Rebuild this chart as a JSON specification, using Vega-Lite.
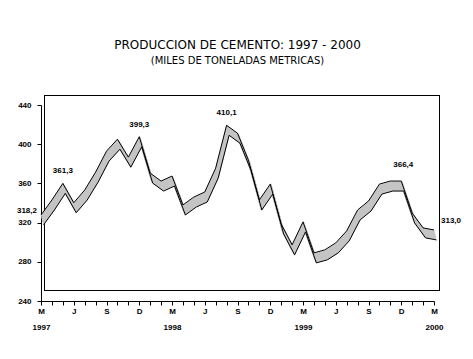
{
  "$schema": "https://vega.github.io/schema/vega-lite/v6.json",
  "autosize": "none",
  "width": 393,
  "height": 196,
  "padding": {"left": 41, "top": 105, "right": 39, "bottom": 58},
  "background": "white",
  "view": {"stroke": null},
  "title": {
    "text": "PRODUCCION DE CEMENTO: 1997 - 2000",
    "subtitle": "(MILES DE TONELADAS METRICAS)",
    "font": "DejaVu Sans",
    "fontSize": 12,
    "fontWeight": "normal",
    "color": "black",
    "subtitleFont": "DejaVu Sans",
    "subtitleFontSize": 10,
    "subtitleColor": "black",
    "subtitlePadding": 4,
    "anchor": "middle",
    "offset": 28
  },
  "data": {
    "values": [
      {"i": 0, "fecha": "1997-03", "v": 327.8, "etiqueta": "318,2"},
      {"i": 1, "fecha": "1997-04", "v": 343.1},
      {"i": 2, "fecha": "1997-05", "v": 360.0, "etiqueta": "361,3"},
      {"i": 3, "fecha": "1997-06", "v": 340.3},
      {"i": 4, "fecha": "1997-07", "v": 353.2},
      {"i": 5, "fecha": "1997-08", "v": 371.5},
      {"i": 6, "fecha": "1997-09", "v": 392.9},
      {"i": 7, "fecha": "1997-10", "v": 405.1},
      {"i": 8, "fecha": "1997-11", "v": 386.8},
      {"i": 9, "fecha": "1997-12", "v": 407.6, "etiqueta": "399,3"},
      {"i": 10, "fecha": "1998-01", "v": 370.5},
      {"i": 11, "fecha": "1998-02", "v": 362.4},
      {"i": 12, "fecha": "1998-03", "v": 367.5},
      {"i": 13, "fecha": "1998-04", "v": 338.0},
      {"i": 14, "fecha": "1998-05", "v": 346.1},
      {"i": 15, "fecha": "1998-06", "v": 351.2},
      {"i": 16, "fecha": "1998-07", "v": 375.6},
      {"i": 17, "fecha": "1998-08", "v": 419.3, "etiqueta": "410,1"},
      {"i": 18, "fecha": "1998-09", "v": 411.2},
      {"i": 19, "fecha": "1998-10", "v": 383.7},
      {"i": 20, "fecha": "1998-11", "v": 343.1},
      {"i": 21, "fecha": "1998-12", "v": 359.3},
      {"i": 22, "fecha": "1999-01", "v": 318.6},
      {"i": 23, "fecha": "1999-02", "v": 297.3},
      {"i": 24, "fecha": "1999-03", "v": 320.7},
      {"i": 25, "fecha": "1999-04", "v": 289.1},
      {"i": 26, "fecha": "1999-05", "v": 292.2},
      {"i": 27, "fecha": "1999-06", "v": 299.3},
      {"i": 28, "fecha": "1999-07", "v": 311.5},
      {"i": 29, "fecha": "1999-08", "v": 332.9},
      {"i": 30, "fecha": "1999-09", "v": 342.0},
      {"i": 31, "fecha": "1999-10", "v": 359.3},
      {"i": 32, "fecha": "1999-11", "v": 362.4},
      {"i": 33, "fecha": "1999-12", "v": 362.4, "etiqueta": "366,4"},
      {"i": 34, "fecha": "2000-01", "v": 329.8},
      {"i": 35, "fecha": "2000-02", "v": 314.6},
      {"i": 36, "fecha": "2000-03", "v": 312.5, "etiqueta": "313,0"}
    ]
  },
  "encoding": {
    "x": {
      "field": "i",
      "type": "quantitative",
      "scale": {"domain": [0, 36], "nice": false, "zero": false},
      "axis": {
        "title": null,
        "grid": false,
        "values": [0,1,2,3,4,5,6,7,8,9,10,11,12,13,14,15,16,17,18,19,20,21,22,23,24,25,26,27,28,29,30,31,32,33,34,35,36],
        "labelExpr": "datum.value % 3 != 0 ? '' : (datum.value % 12 == 0 ? ['M', toString(1997 + datum.value / 12)] : (datum.value % 12 == 3 ? 'J' : (datum.value % 12 == 6 ? 'S' : 'D')))",
        "labelOverlap": false,
        "labelFlush": false,
        "labelFont": "Liberation Sans",
        "labelFontSize": 8,
        "labelFontWeight": "bold",
        "labelColor": "black",
        "labelLineHeight": 16,
        "labelPadding": 2,
        "tickSize": 4,
        "tickColor": "black",
        "domainColor": "black"
      }
    },
    "y": {
      "field": "v",
      "type": "quantitative",
      "scale": {"domain": [240, 440], "nice": false, "zero": false},
      "axis": {
        "title": null,
        "grid": false,
        "values": [240, 280, 320, 360, 400, 440],
        "labelFont": "Liberation Sans",
        "labelFontSize": 8,
        "labelFontWeight": "bold",
        "labelColor": "black",
        "labelPadding": 6,
        "tickSize": 4,
        "tickColor": "black",
        "domainColor": "black"
      }
    }
  },
  "layer": [
    {
      "mark": {"type": "rect", "fill": "white", "fillOpacity": 0, "stroke": "black", "strokeWidth": 1, "xOffset": 3.5, "x2Offset": 5.5, "yOffset": -10.5, "y2Offset": -9.5},
      "encoding": {
        "x": {"datum": 0, "type": "quantitative"},
        "x2": {"datum": 36},
        "y": {"datum": 240, "type": "quantitative"},
        "y2": {"datum": 440}
      }
    },
    {"mark": {"type": "line", "color": "#c4c4c4", "strokeWidth": 2.2, "xOffset": 0.4, "yOffset": 1.5}},
    {"mark": {"type": "line", "color": "#c4c4c4", "strokeWidth": 2.2, "xOffset": 0.8, "yOffset": 3}},
    {"mark": {"type": "line", "color": "#c4c4c4", "strokeWidth": 2.2, "xOffset": 1.2, "yOffset": 4.5}},
    {"mark": {"type": "line", "color": "#c4c4c4", "strokeWidth": 2.2, "xOffset": 1.6, "yOffset": 6}},
    {"mark": {"type": "line", "color": "#c4c4c4", "strokeWidth": 2.2, "xOffset": 2.0, "yOffset": 7.5}},
    {"mark": {"type": "line", "color": "#c4c4c4", "strokeWidth": 2.2, "xOffset": 2.3, "yOffset": 8.8}},
    {"mark": {"type": "line", "color": "black", "strokeWidth": 1}},
    {"mark": {"type": "line", "color": "black", "strokeWidth": 1, "xOffset": 2.5, "yOffset": 10}},
    {
      "transform": [{"filter": "datum.i == 0"}],
      "mark": {"type": "text", "font": "Liberation Sans", "fontSize": 8, "fontWeight": "bold", "color": "black", "align": "right", "baseline": "middle", "dx": -4, "dy": -4},
      "encoding": {"text": {"field": "etiqueta"}}
    },
    {
      "transform": [{"filter": "datum.i == 2 || datum.i == 9 || datum.i == 17"}],
      "mark": {"type": "text", "font": "Liberation Sans", "fontSize": 8, "fontWeight": "bold", "color": "black", "align": "center", "baseline": "middle", "dx": 0, "dy": -12},
      "encoding": {"text": {"field": "etiqueta"}}
    },
    {
      "transform": [{"filter": "datum.i == 33"}],
      "mark": {"type": "text", "font": "Liberation Sans", "fontSize": 8, "fontWeight": "bold", "color": "black", "align": "center", "baseline": "middle", "dx": 2, "dy": -16},
      "encoding": {"text": {"field": "etiqueta"}}
    },
    {
      "transform": [{"filter": "datum.i == 36"}],
      "mark": {"type": "text", "font": "Liberation Sans", "fontSize": 8, "fontWeight": "bold", "color": "black", "align": "left", "baseline": "middle", "dx": 7, "dy": -9},
      "encoding": {"text": {"field": "etiqueta"}}
    }
  ]
}
